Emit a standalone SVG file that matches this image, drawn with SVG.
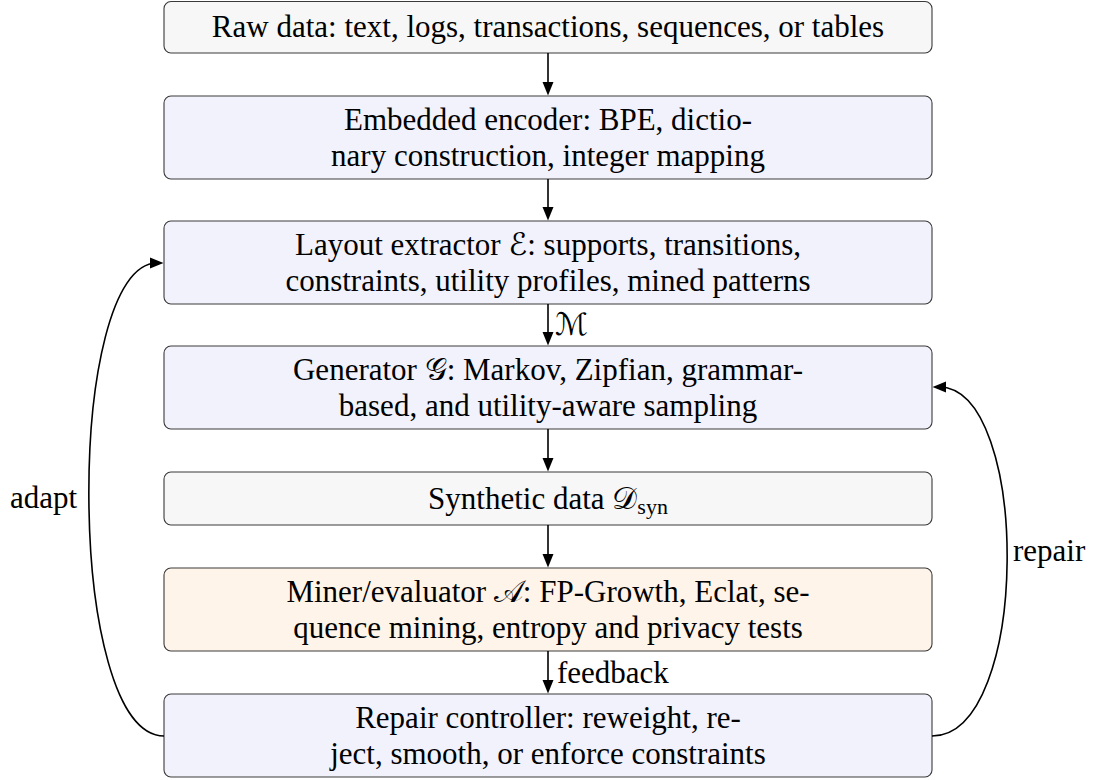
<svg xmlns="http://www.w3.org/2000/svg" width="1094" height="780" viewBox="0 0 1094 780">
<style>
.t { font-size: 31px; fill: #000; }
.l { font-size: 31px; fill: #000; }
.c { text-anchor: middle; }
.box { stroke: #3a3a3a; stroke-width: 1.1; }
.gray { fill: #f7f7f7; }
.blue { fill: #f2f2fd; }
.orange { fill: #fff4e9; }
.dj { font-family: "DejaVu Serif", "DejaVu Sans", serif; }
.sub { font-size: 22px; }
.conn { fill: none; stroke: #000; stroke-width: 1.6; }
</style>
<defs>
<marker id="ah" markerUnits="userSpaceOnUse" markerWidth="14" markerHeight="12" viewBox="0 0 14 12" refX="7" refY="6" orient="auto">
<path d="M0,0.5 L13.5,6 L0,11.5 z" fill="#000"/>
</marker>
</defs>
<g id="n1"><rect class="box gray" x="164" y="1.5" width="768" height="51.5" rx="7"/><text class="t c" font-family="Liberation Serif, serif" x="548" y="37">Raw data: text, logs, transactions, sequences, or tables</text></g>
<g id="n2"><rect class="box blue" x="164" y="96" width="768" height="83" rx="7"/><text class="t c" font-family="Liberation Serif, serif" x="548" y="129.5">Embedded encoder: BPE, dictio-</text><text class="t c" font-family="Liberation Serif, serif" x="548" y="165.5">nary construction, integer mapping</text></g>
<g id="n3"><rect class="box blue" x="164" y="221" width="768" height="83" rx="7"/><text class="t c" font-family="Liberation Serif, serif" x="548" y="254.5">Layout extractor <tspan class="dj">ℰ</tspan>: supports, transitions,</text><text class="t c" font-family="Liberation Serif, serif" x="548" y="290.5">constraints, utility profiles, mined patterns</text></g>
<g id="n4"><rect class="box blue" x="164" y="346" width="768" height="83" rx="7"/><text class="t c" font-family="Liberation Serif, serif" x="548" y="379.5">Generator <tspan>𝒢</tspan>: Markov, Zipfian, grammar-</text><text class="t c" font-family="Liberation Serif, serif" x="548" y="415.5">based, and utility-aware sampling</text></g>
<g id="n5"><rect class="box gray" x="164" y="472" width="768" height="53" rx="7"/><text class="t c" font-family="Liberation Serif, serif" x="548" y="508.5">Synthetic data <tspan>𝒟</tspan><tspan class="sub" dy="5">syn</tspan></text></g>
<g id="n6"><rect class="box orange" x="164" y="568" width="768" height="83" rx="7"/><text class="t c" font-family="Liberation Serif, serif" x="548" y="601.5">Miner/evaluator <tspan>𝒜</tspan>: FP-Growth, Eclat, se-</text><text class="t c" font-family="Liberation Serif, serif" x="548" y="637.5">quence mining, entropy and privacy tests</text></g>
<g id="n7"><rect class="box blue" x="164" y="694" width="768" height="83" rx="7"/><text class="t c" font-family="Liberation Serif, serif" x="548" y="727.5">Repair controller: reweight, re-</text><text class="t c" font-family="Liberation Serif, serif" x="548" y="763.5">ject, smooth, or enforce constraints</text></g>
<g id="connectors">
<line class="conn" x1="548" y1="53" x2="548" y2="89" marker-end="url(#ah)"/>
<line class="conn" x1="548" y1="179" x2="548" y2="214" marker-end="url(#ah)"/>
<line class="conn" x1="548" y1="304" x2="548" y2="339" marker-end="url(#ah)"/>
<line class="conn" x1="548" y1="429" x2="548" y2="465" marker-end="url(#ah)"/>
<line class="conn" x1="548" y1="525" x2="548" y2="561" marker-end="url(#ah)"/>
<line class="conn" x1="548" y1="651" x2="548" y2="687" marker-end="url(#ah)"/>
<path class="conn" d="M164,736 C65,736 65,263 157,263" marker-end="url(#ah)"/>
<path class="conn" d="M932,736 C1031,736 1031,387 939,387" marker-end="url(#ah)"/>
<text class="l dj" x="555" y="335">ℳ</text>
<text class="l" font-family="Liberation Serif, serif" x="557" y="683">feedback</text>
<text class="l" font-family="Liberation Serif, serif" x="10" y="508">adapt</text>
<text class="l" font-family="Liberation Serif, serif" x="1013" y="561">repair</text>
</g>
</svg>
